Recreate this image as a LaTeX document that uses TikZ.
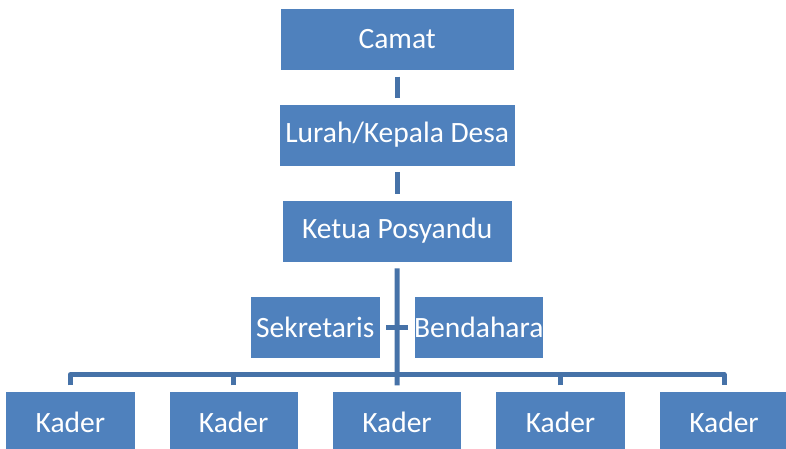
\documentclass[tikz,border=0pt]{standalone}
\usepackage{fontspec}
\setmainfont{Carlito}
\definecolor{boxblue}{HTML}{4F81BD}
\definecolor{linkblue}{HTML}{4672A8}
\begin{document}
\begin{tikzpicture}[x=1pt,y=-1pt,
  orgbox/.style={rectangle, fill=boxblue, draw=white, line width=0.8pt,
    text=white, font=\fontsize{29.5}{34}\selectfont, minimum height=62pt,
    inner sep=0pt, anchor=center},
  conn/.style={draw=linkblue, line width=5pt}]
\useasboundingbox (0,0) rectangle (786,448);
\clip (0,0) rectangle (786,448);
\node[orgbox, minimum width=233.7pt] (camat) at (397.2,39.3) {Camat};
\node[orgbox, minimum width=235.7pt] (lurah) at (397.2,135) {Lurah/Kepala Desa};
\node[orgbox, minimum width=229.7pt] (ketua) at (397.2,231) {Ketua Posyandu};
\node[orgbox, minimum width=129.3pt] (sek) at (315.3,327) {Sekretaris};
\node[orgbox, minimum width=129.7pt] (ben) at (478.8,327) {Bendahara};
\node[orgbox, minimum width=129.3pt] (k1) at (70.4,422.7) {Kader};
\node[orgbox, minimum width=129.3pt] (k2) at (233.7,422.7) {Kader};
\node[orgbox, minimum width=129.3pt] (k3) at (397,422.7) {Kader};
\node[orgbox, minimum width=129.3pt] (k4) at (560.5,422.7) {Kader};
\node[orgbox, minimum width=129.3pt] (k5) at (724,422.7) {Kader};
\coordinate (bar) at (397,374.5);
\draw[conn] ([yshift=-6pt]camat.south) -- ([yshift=6pt]lurah.north);
\draw[conn] ([yshift=-6pt]lurah.south) -- ([yshift=6pt]ketua.north);
\draw[conn] ([yshift=-6pt]ketua.south) -- ([yshift=6pt]k3.north);
\draw[conn] ([xshift=6pt]sek.east) -- ([xshift=-6pt]ben.west);
\draw[conn, line join=round] ([yshift=6pt]k1.north) -- (k1.north |- bar) -- (k5.north |- bar) -- ([yshift=6pt]k5.north);
\draw[conn] ([yshift=6pt]k2.north) -- (k2.north |- bar);
\draw[conn] ([yshift=6pt]k4.north) -- (k4.north |- bar);
\end{tikzpicture}
\end{document}
